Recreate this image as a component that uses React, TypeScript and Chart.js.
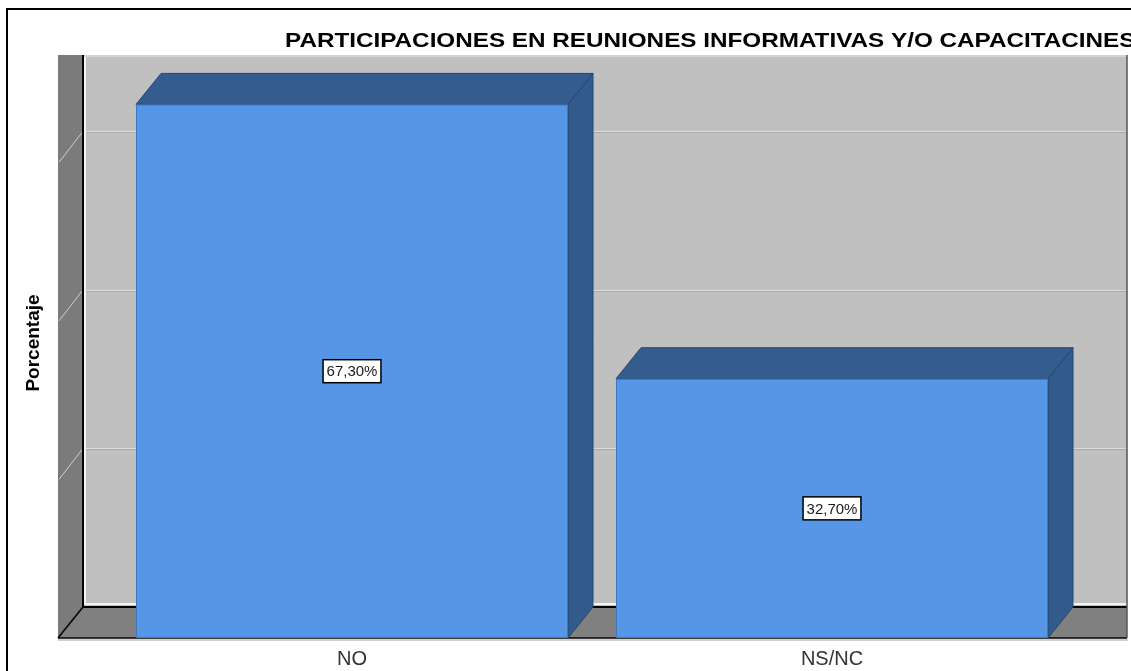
import React, { useEffect, useRef } from "react";
import { Chart, registerables } from "chart.js";

Chart.register(...registerables);

const categories: string[] = ["NO", "NS/NC"];
const percentages: number[] = [67.3, 32.7];
const valueLabels: string[] = ["67,30%", "32,70%"];
const gridValues: number[] = [20, 40, 60];
const yMax = 70;
const chartTitle = "PARTICIPACIONES EN REUNIONES INFORMATIVAS Y/O CAPACITACINES";
const yTitle = "Porcentaje";

const DX = 25;
const DY = 31;
const FONT = "'Liberation Sans', Arial, sans-serif";

const scenePlugin = {
  id: "scene3d",
  beforeDatasetsDraw(chart: any) {
    const ctx = chart.ctx as CanvasRenderingContext2D;
    const { left, right, top, bottom } = chart.chartArea;
    const yScale = chart.scales.y;
    const wallLeft = left - 54;
    const backLeft = wallLeft + DX;
    const wallRight = right + 55;
    const wallTop = top - 28;
    const floorBack = bottom - DY;

    ctx.save();
    // outer frame
    ctx.strokeStyle = "#000";
    ctx.lineWidth = 2;
    ctx.strokeRect(7, 9, 1140, 700);

    // back wall
    ctx.fillStyle = "#c0c0c0";
    ctx.fillRect(backLeft, wallTop, wallRight - backLeft, floorBack - wallTop);
    ctx.fillStyle = "#d4d4d4";
    ctx.fillRect(backLeft, wallTop, wallRight - backLeft, 2);

    // gridlines on back wall
    gridValues.forEach((v) => {
      const gy = Math.round(yScale.getPixelForValue(v) - DY) + 0.5;
      ctx.strokeStyle = "#dcdcdc";
      ctx.lineWidth = 1;
      ctx.beginPath();
      ctx.moveTo(backLeft, gy);
      ctx.lineTo(wallRight, gy);
      ctx.stroke();
      ctx.strokeStyle = "#a9a9a9";
      ctx.beginPath();
      ctx.moveTo(backLeft, gy + 1);
      ctx.lineTo(wallRight, gy + 1);
      ctx.stroke();
    });

    // white inner highlights
    ctx.strokeStyle = "#f4f4f4";
    ctx.lineWidth = 2;
    ctx.beginPath();
    ctx.moveTo(backLeft + 2, wallTop + 2);
    ctx.lineTo(backLeft + 2, floorBack - 3);
    ctx.lineTo(wallRight, floorBack - 3);
    ctx.stroke();

    // left wall
    ctx.fillStyle = "#7b7b7b";
    ctx.fillRect(wallLeft, wallTop, DX, bottom - wallTop);
    gridValues.forEach((v) => {
      const gy = yScale.getPixelForValue(v) - DY;
      ctx.strokeStyle = "#cfcfcf";
      ctx.lineWidth = 1;
      ctx.beginPath();
      ctx.moveTo(wallLeft + 1, gy + DY);
      ctx.lineTo(backLeft, gy);
      ctx.stroke();
    });

    // floor
    ctx.fillStyle = "#808080";
    ctx.beginPath();
    ctx.moveTo(wallLeft, bottom);
    ctx.lineTo(backLeft, floorBack);
    ctx.lineTo(wallRight, floorBack);
    ctx.lineTo(wallRight, bottom);
    ctx.closePath();
    ctx.fill();

    // edges
    ctx.strokeStyle = "#000";
    ctx.lineWidth = 2;
    ctx.beginPath();
    ctx.moveTo(backLeft, wallTop);
    ctx.lineTo(backLeft, floorBack);
    ctx.lineTo(wallRight, floorBack);
    ctx.stroke();
    ctx.lineWidth = 1.5;
    ctx.beginPath();
    ctx.moveTo(wallLeft, bottom);
    ctx.lineTo(backLeft, floorBack);
    ctx.stroke();
    ctx.beginPath();
    ctx.moveTo(wallLeft, bottom);
    ctx.lineTo(wallRight, bottom);
    ctx.stroke();
    ctx.strokeStyle = "#cfcfcf";
    ctx.lineWidth = 2;
    ctx.beginPath();
    ctx.moveTo(wallLeft, bottom + 2);
    ctx.lineTo(wallRight + 1, bottom + 2);
    ctx.stroke();
    ctx.strokeStyle = "#555";
    ctx.lineWidth = 1.5;
    ctx.beginPath();
    ctx.moveTo(wallRight, wallTop);
    ctx.lineTo(wallRight, bottom);
    ctx.stroke();
    ctx.restore();
  },
  afterDatasetsDraw(chart: any) {
    const ctx = chart.ctx as CanvasRenderingContext2D;
    const meta = chart.getDatasetMeta(0);
    ctx.save();
    meta.data.forEach((bar: any, i: number) => {
      const { x, y, base, width } = bar.getProps(["x", "y", "base", "width"], true);
      const l = x - width / 2;
      const r = x + width / 2;
      // top face
      ctx.fillStyle = "#345c8e";
      ctx.strokeStyle = "#27466f";
      ctx.lineWidth = 1;
      ctx.beginPath();
      ctx.moveTo(l, y);
      ctx.lineTo(l + DX, y - DY);
      ctx.lineTo(r + DX, y - DY);
      ctx.lineTo(r, y);
      ctx.closePath();
      ctx.fill();
      ctx.stroke();
      // side face
      ctx.fillStyle = "#325a8b";
      ctx.beginPath();
      ctx.moveTo(r, y);
      ctx.lineTo(r + DX, y - DY);
      ctx.lineTo(r + DX, base - DY);
      ctx.lineTo(r, base);
      ctx.closePath();
      ctx.fill();
      ctx.stroke();
      ctx.strokeStyle = "#3f78c0";
      ctx.strokeRect(l + 0.5, y + 0.5, width - 1, base - y - 1);

      // value label
      const cy = (y + base) / 2;
      ctx.font = `15px ${FONT}`;
      const tw = ctx.measureText(valueLabels[i]).width;
      const bw = tw + 7;
      const bh = 23;
      ctx.fillStyle = "#fff";
      ctx.fillRect(x - bw / 2, cy - bh / 2, bw, bh);
      ctx.strokeStyle = "#000";
      ctx.lineWidth = 1.5;
      ctx.strokeRect(x - bw / 2, cy - bh / 2, bw, bh);
      ctx.fillStyle = "#1a1a1a";
      ctx.textAlign = "center";
      ctx.textBaseline = "middle";
      ctx.fillText(valueLabels[i], x, cy + 1);
    });

    // title
    ctx.save();
    ctx.font = `bold 21px ${FONT}`;
    ctx.fillStyle = "#000";
    ctx.textAlign = "left";
    ctx.textBaseline = "alphabetic";
    ctx.translate(285, 47);
    ctx.scale(1.155, 1);
    ctx.fillText(chartTitle, 0, 0);
    ctx.restore();

    // y axis title
    ctx.save();
    ctx.font = `bold 19px ${FONT}`;
    ctx.fillStyle = "#000";
    ctx.textAlign = "center";
    ctx.textBaseline = "alphabetic";
    ctx.translate(39, 343);
    ctx.rotate(-Math.PI / 2);
    ctx.fillText(yTitle, 0, 0);
    ctx.restore();
    ctx.restore();
  },
};

export default function App() {
  const ref = useRef<HTMLCanvasElement | null>(null);
  useEffect(() => {
    if (!ref.current) return;
    const chart = new Chart(ref.current, {
      type: "bar",
      data: {
        labels: categories,
        datasets: [
          {
            data: percentages,
            backgroundColor: "#5596e6",
            borderWidth: 0,
            barPercentage: 0.9,
            categoryPercentage: 1,
          },
        ],
      },
      options: {
        responsive: false,
        animation: false,
        devicePixelRatio: 1,
        layout: { padding: { left: 112, right: 59, top: 83, bottom: 0 } },
        plugins: { legend: { display: false }, tooltip: { enabled: false }, title: { display: false } },
        scales: {
          x: {
            grid: { display: false, drawTicks: false },
            border: { display: false },
            ticks: { color: "#333", font: { family: FONT, size: 20 }, padding: 9 },
            afterFit: (scale: any) => {
              scale.height = 33;
            },
          },
          y: { display: false, min: 0, max: yMax },
        },
      },
      plugins: [scenePlugin],
    });
    return () => chart.destroy();
  }, []);
  return (
    <div style={{ position: "fixed", left: 0, top: 0, width: 1131, height: 671, background: "#fff" }}>
      <canvas ref={ref} width={1131} height={671} />
    </div>
  );
}
